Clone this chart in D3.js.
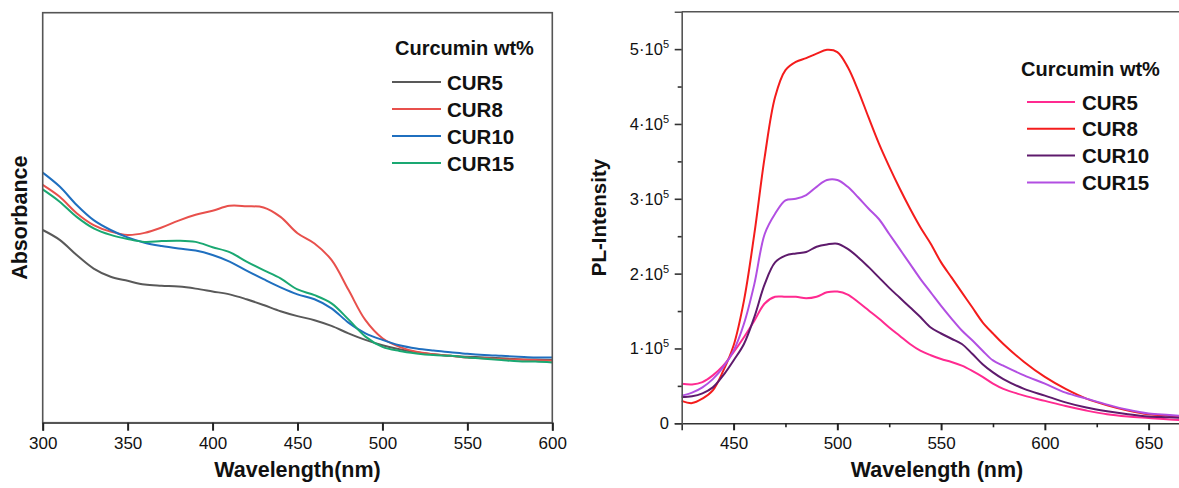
<!DOCTYPE html>
<html>
<head>
<meta charset="utf-8">
<script src="https://cdn.jsdelivr.net/npm/d3@7"></script>
<style>
  body { margin: 0; background: #fff; }
  svg text { font-family: "Liberation Sans", Arial, sans-serif; fill: #111; }
</style>
</head>
<body>
<div id="chart"></div>
<script>
// ---- left panel: UV-vis absorbance ----
const absWavelength = [300,310,320,330,340,350,360,370,380,390,400,410,420,430,440,450,460,470,480,490,500,510,520,530,540,550,560,570,580,590,600];
const absCUR5  = [0.470,0.446,0.409,0.376,0.356,0.346,0.337,0.334,0.332,0.327,0.320,0.313,0.301,0.287,0.272,0.260,0.250,0.236,0.218,0.202,0.189,0.179,0.172,0.167,0.163,0.161,0.159,0.157,0.155,0.154,0.153];
const absCUR8  = [0.580,0.551,0.511,0.482,0.466,0.458,0.463,0.476,0.493,0.507,0.517,0.529,0.528,0.525,0.502,0.462,0.437,0.397,0.324,0.250,0.206,0.185,0.173,0.167,0.163,0.159,0.157,0.155,0.154,0.153,0.151];
const absCUR10 = [0.610,0.576,0.531,0.494,0.470,0.452,0.439,0.431,0.425,0.420,0.409,0.393,0.371,0.350,0.330,0.313,0.301,0.279,0.244,0.218,0.202,0.189,0.181,0.176,0.172,0.168,0.165,0.163,0.161,0.159,0.159];
const absCUR15 = [0.569,0.539,0.502,0.474,0.458,0.448,0.441,0.443,0.444,0.441,0.428,0.416,0.393,0.372,0.352,0.325,0.311,0.291,0.252,0.210,0.185,0.175,0.169,0.165,0.163,0.159,0.156,0.153,0.150,0.149,0.147];
const absTicks = [300,350,400,450,500,550,600];

// ---- right panel: photoluminescence ----
const plWavelength = [425,430,435,440,445,450,455,460,465,470,475,480,485,490,495,500,505,510,515,520,525,530,535,540,545,550,555,560,565,570,575,580,590,600,610,620,630,640,650,660,675];
const plCUR5  = [53000,52000,55000,64000,77000,95000,115000,137000,160000,169000,169000,169000,167000,169000,175000,176000,172000,162000,151000,140000,128000,117000,106000,97000,91000,86000,82000,77000,70000,62000,53000,46000,37000,30000,23000,17000,12000,9000,7000,5000,4000];
const plCUR8  = [30000,27000,33000,44000,70000,104000,164000,253000,356000,436000,472000,483000,488000,494000,499000,496000,476000,445000,409000,374000,343000,314000,287000,262000,240000,215000,195000,175000,155000,135000,120000,106000,82000,62000,46000,33000,24000,17000,12000,10000,7000];
const plCUR10 = [35000,36000,40000,48000,64000,84000,106000,142000,186000,215000,224000,227000,229000,236000,239000,240000,233000,222000,209000,195000,181000,168000,155000,142000,128000,120000,113000,106000,93000,79000,68000,59000,46000,37000,28000,21000,16000,12000,9000,8000,6000];
const plCUR15 = [37000,41000,48000,59000,75000,97000,133000,186000,253000,280000,298000,300000,305000,316000,325000,325000,316000,302000,287000,273000,253000,233000,213000,193000,175000,157000,140000,124000,111000,97000,84000,77000,64000,53000,41000,33000,25000,18000,13000,11000,8000];
const plTicks = [450,500,550,600,650];
const plMinorTicks = [475,525,575,625];
const plYTicks = [0,100000,200000,300000,400000,500000];
const plYMinorTicks = [50000,150000,250000,350000,450000];

const seriesNames = ["CUR5","CUR8","CUR10","CUR15"];
const absColors = ["#595959","#e8504c","#1f6fbf","#1aa872"];
const plColors  = ["#ff2a90","#f41c1c","#5e1a6c","#b24fe2"];

const W = 1179, H = 488;
const svg = d3.select("#chart").append("svg")
  .attr("width", W).attr("height", H);

// ================= left panel =================
const xA = d3.scaleLinear().domain([300, 600]).range([42.7, 552.3]);
const yA = d3.scaleLinear().domain([0, 1]).range([422.7, 12.7]);

const gA = svg.append("g");

const absSeries = [absCUR5, absCUR8, absCUR10, absCUR15];
const lineA = d3.line()
  .x((d, i) => xA(absWavelength[i]))
  .y(d => yA(d))
  .curve(d3.curveCatmullRom.alpha(0.5));

gA.selectAll(".absline")
  .data(absSeries)
  .enter().append("path")
  .attr("class", "absline")
  .attr("d", lineA)
  .attr("fill", "none")
  .attr("stroke", (d, i) => absColors[i])
  .attr("stroke-width", 2);

// frame
gA.append("rect")
  .attr("x", xA(300)).attr("y", yA(1))
  .attr("width", xA(600) - xA(300)).attr("height", yA(0) - yA(1))
  .attr("fill", "none").attr("stroke", "#555").attr("stroke-width", 1.6);

const axA = gA.append("g")
  .attr("transform", `translate(0,${yA(0)})`)
  .call(d3.axisBottom(xA).tickValues(absTicks).tickSize(8).tickPadding(6).tickFormat(d3.format("d")));
axA.select(".domain").attr("stroke", "#555").attr("stroke-width", 1.6);
axA.selectAll(".tick line").attr("stroke", "#222").attr("stroke-width", 2);
axA.selectAll(".tick text").attr("font-size", 17).attr("fill", "#222")
  .attr("font-family", "Liberation Sans, Arial, sans-serif");

gA.append("text")
  .attr("x", (xA(300) + xA(600)) / 2).attr("y", 477)
  .attr("text-anchor", "middle")
  .attr("font-size", 21.5).attr("font-weight", "bold")
  .text("Wavelength(nm)");

gA.append("text")
  .attr("transform", `translate(27,${(yA(0) + yA(1)) / 2}) rotate(-90)`)
  .attr("text-anchor", "middle")
  .attr("font-size", 21.5).attr("font-weight", "bold")
  .text("Absorbance");

// legend
const legA = gA.append("g");
legA.append("text").attr("x", 395).attr("y", 55)
  .attr("font-size", 20).attr("font-weight", "bold").text("Curcumin wt%");
seriesNames.forEach((name, i) => {
  const yy = 82 + i * 27;
  legA.append("line").attr("x1", 392).attr("x2", 441).attr("y1", yy).attr("y2", yy)
    .attr("stroke", absColors[i]).attr("stroke-width", 2);
  legA.append("text").attr("x", 447).attr("y", yy + 7.5)
    .attr("font-size", 20.5).attr("font-weight", "bold").text(name);
});

// ================= right panel =================
const xP = d3.scaleLinear().domain([425, 675]).range([681.7, 1200.5]);
const yP = d3.scaleLinear().domain([0, 550000]).range([423.3, 11.7]);

const gP = svg.append("g");

const plSeries = [plCUR5, plCUR8, plCUR10, plCUR15];
const lineP = d3.line()
  .x((d, i) => xP(plWavelength[i]))
  .y(d => yP(d))
  .curve(d3.curveCatmullRom.alpha(0.5));

gP.selectAll(".plline")
  .data(plSeries)
  .enter().append("path")
  .attr("class", "plline")
  .attr("d", lineP)
  .attr("fill", "none")
  .attr("stroke", (d, i) => plColors[i])
  .attr("stroke-width", 2);

// top border
gP.append("line")
  .attr("x1", xP(425)).attr("x2", xP(675)).attr("y1", yP(550000)).attr("y2", yP(550000))
  .attr("stroke", "#555").attr("stroke-width", 1.6);

// x axis
const axPx = gP.append("g")
  .attr("transform", `translate(0,${yP(0)})`)
  .call(d3.axisBottom(xP).tickValues(plTicks).tickSize(7).tickPadding(7).tickFormat(d3.format("d")));
axPx.select(".domain").attr("stroke", "#333").attr("stroke-width", 1.6);
axPx.selectAll(".tick line").attr("stroke", "#222").attr("stroke-width", 2);
axPx.selectAll(".tick text").attr("font-size", 17).attr("fill", "#222")
  .attr("font-family", "Liberation Sans, Arial, sans-serif");
gP.append("g")
  .attr("transform", `translate(0,${yP(0)})`)
  .call(d3.axisBottom(xP).tickValues(plMinorTicks).tickSize(4).tickFormat(""))
  .call(g => g.select(".domain").remove())
  .selectAll(".tick line").attr("stroke", "#222").attr("stroke-width", 1.6);

// y axis
const axPy = gP.append("g")
  .attr("transform", `translate(${xP(425)},0)`)
  .call(d3.axisLeft(yP).tickValues(plYTicks).tickSize(7).tickPadding(5).tickFormat(""));
axPy.select(".domain").attr("stroke", "#555").attr("stroke-width", 1.6);
axPy.selectAll(".tick line").attr("stroke", "#333").attr("stroke-width", 1.6);
gP.append("g")
  .attr("transform", `translate(${xP(425)},0)`)
  .call(d3.axisLeft(yP).tickValues(plYMinorTicks).tickSize(4).tickFormat(""))
  .call(g => g.select(".domain").remove())
  .selectAll(".tick line").attr("stroke", "#333").attr("stroke-width", 1.6);

// y tick labels like 5·10^5
const yLab = gP.selectAll(".ylab")
  .data(plYTicks)
  .enter().append("text")
  .attr("class", "ylab")
  .attr("x", 669)
  .attr("y", d => yP(d) + 6)
  .attr("text-anchor", "end")
  .attr("font-size", 16.5)
  .attr("fill", "#222");
yLab.each(function(d) {
  const t = d3.select(this);
  if (d === 0) { t.text("0"); return; }
  t.append("tspan").text((d / 100000) + "\u00b710");
  t.append("tspan").attr("dy", -7).attr("font-size", 11).text("5");
});

gP.append("text")
  .attr("x", 937).attr("y", 477)
  .attr("text-anchor", "middle")
  .attr("font-size", 21.5).attr("font-weight", "bold")
  .text("Wavelength (nm)");

gP.append("text")
  .attr("transform", `translate(606,${(yP(0) + yP(550000)) / 2}) rotate(-90)`)
  .attr("text-anchor", "middle")
  .attr("font-size", 20.5).attr("font-weight", "bold")
  .text("PL-Intensity");

// legend
const legP = gP.append("g");
legP.append("text").attr("x", 1021).attr("y", 76)
  .attr("font-size", 20).attr("font-weight", "bold").text("Curcumin wt%");
seriesNames.forEach((name, i) => {
  const yy = 102 + i * 26.8;
  legP.append("line").attr("x1", 1027).attr("x2", 1075).attr("y1", yy).attr("y2", yy)
    .attr("stroke", plColors[i]).attr("stroke-width", 2);
  legP.append("text").attr("x", 1082).attr("y", yy + 7.5)
    .attr("font-size", 20.5).attr("font-weight", "bold").text(name);
});
</script>
</body>
</html>
